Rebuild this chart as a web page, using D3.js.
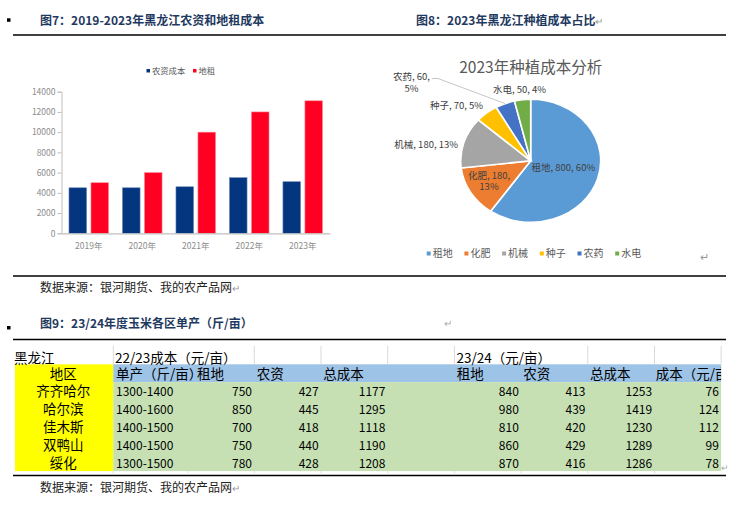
<!DOCTYPE html>
<html><head><meta charset="utf-8">
<script src="https://cdn.jsdelivr.net/npm/d3@7/dist/d3.min.js"></script>
<style>
html,body{margin:0;padding:0;background:#fff;}
svg{display:block;}
text{font-family:"Noto Sans CJK SC","Noto Sans",sans-serif;}
</style></head>
<body>
<svg id="c" width="729" height="516"></svg>
<script>
// ---------- data ----------
const years = ["2019年","2020年","2021年","2022年","2023年"];
const barSeries = ["农资成本","地租"];
const inputCost = [4500,4500,4600,5500,5100];
const landRent = [5000,6000,10000,12000,13100];
const yTicks = [0,2000,4000,6000,8000,10000,12000,14000];

const pieCats = ["租地","化肥","机械","种子","农药","水电"];
const pieValues = [800,180,180,70,60,50];
const piePct = ["60%","13%","13%","5%","5%","4%"];

const regions = ["齐齐哈尔","哈尔滨","佳木斯","双鸭山","绥化"];
const yieldRange = ["1300-1400","1400-1600","1400-1500","1400-1500","1300-1500"];
const rent2223 = [750,850,700,750,780];
const input2223 = [427,445,418,440,428];
const total2223 = [1177,1295,1118,1190,1208];
const rent2324 = [840,980,810,860,870];
const input2324 = [413,439,420,429,416];
const total2324 = [1253,1419,1230,1289,1286];
const costChange = [76,124,112,99,78];
const headerRow0 = ["黑龙江","22/23成本（元/亩）","","","","","23/24（元/亩）","","",""];
const headerRow1 = ["地区","单产（斤/亩）","租地","农资","总成本","","租地","农资","总成本","成本（元/亩）"];

// ---------- page frame ----------
const svg = d3.select("#c");
const navy = "#1F3A60";
const ret = "\u21B5";

function bullet(y){ svg.append("rect").attr("x",7).attr("y",y).attr("width",3.5).attr("height",3.5).attr("fill","#000"); }
function hline(y){ svg.append("line").attr("x1",13).attr("x2",726).attr("y1",y).attr("y2",y).attr("stroke","#000").attr("stroke-width",1.3); }
function title(x,y,t,arrow){
  const tx = svg.append("text").attr("x",x).attr("y",y).attr("font-size",12).attr("font-weight",700).attr("fill",navy).text(t);
  if(arrow) tx.append("tspan").attr("font-weight",400).attr("fill","#999").attr("font-size",10).text(ret);
}
function source(y){
  const tx = svg.append("text").attr("x",40).attr("y",y).attr("font-size",12).attr("fill","#222").text("数据来源：银河期货、我的农产品网");
  tx.append("tspan").attr("fill","#999").attr("font-size",10).text(ret);
}
bullet(18.3);
title(40,24.5,"图7：2019-2023年黑龙江农资和地租成本",false);
title(416,24.5,"图8：2023年黑龙江种植成本占比",true);
hline(35);
hline(276);
source(291.5);
bullet(326);
title(40,328,"图9：23/24年度玉米各区单产（斤/亩）",false);
svg.append("text").attr("x",444).attr("y",327).attr("font-size",10).attr("fill","#aaa").text(ret);
hline(339.5);
hline(475.5);
source(492);

// ---------- bar chart ----------
const axisFont = '"Liberation Sans Narrow","Liberation Sans",Arial,sans-serif';
const y = d3.scaleLinear().domain([0,14000]).range([233.3,91.7]);
const x0 = d3.scaleBand().domain(years).range([61.5,330]).paddingInner(0.26).paddingOuter(0.14);
const x1 = d3.scaleBand().domain(barSeries).range([0,x0.bandwidth()]).paddingInner(0.2);
const barColors = {"农资成本":"#04357F","地租":"#FF0022"};
const bars = svg.append("g");
years.forEach((yr,i)=>{
  const vals = [inputCost[i], landRent[i]];
  barSeries.forEach((s,j)=>{
    bars.append("rect")
      .attr("x", x0(yr)+x1(s)).attr("width", x1.bandwidth())
      .attr("y", y(vals[j])).attr("height", y(0)-y(vals[j]))
      .attr("fill", barColors[s]).attr("stroke", j? "#ff8a99":"#6d86b5").attr("stroke-width",0.6);
  });
});
const yAxis = svg.append("g").attr("transform","translate(61.5,0)")
  .call(d3.axisLeft(y).tickValues(yTicks).tickSize(4).tickFormat(d3.format("d")));
yAxis.select(".domain").attr("stroke","#BFBFBF");
yAxis.selectAll(".tick line").attr("stroke","#BFBFBF");
yAxis.selectAll("text").attr("fill","#8C8C8C").attr("font-size",8.5).attr("font-family",axisFont).attr("x",-6);
const xAxis = svg.append("g").attr("transform","translate(0,233.3)")
  .call(d3.axisBottom(x0).tickSize(0).tickPadding(10));
xAxis.select(".domain").attr("stroke","#BFBFBF").attr("stroke-width",1.2);
xAxis.selectAll("text").attr("fill","#8C8C8C").attr("font-size",8.5).attr("font-family",axisFont);
// legend
const lg = svg.append("g");
[[146.5,"农资成本"],[193,"地租"]].forEach(([lx,s])=>{
  lg.append("rect").attr("x",lx).attr("y",69).attr("width",3.5).attr("height",3.5).attr("fill",barColors[s]);
  lg.append("text").attr("x",lx+5.5).attr("y",74).attr("font-size",8.3).attr("fill","#595959").text(s);
});

// ---------- pie chart ----------
const pieColors = d3.scaleOrdinal().domain(pieCats).range(["#5B9BD5","#ED7D31","#A5A5A5","#FFC000","#4472C4","#70AD47"]);
const cx = 530.7, cy = 160.8, ry = 61.5, rx = 70;
svg.append("text").attr("x",cx).attr("y",72.5).attr("text-anchor","middle").attr("font-size",15.5).attr("fill","#595959").text("2023年种植成本分析");
const pieData = d3.pie().sort(null).value(d=>d.v)(pieCats.map((c,i)=>({c, v:pieValues[i], p:piePct[i]})));
const arc = d3.arc().innerRadius(0).outerRadius(ry);
const pg = svg.append("g").attr("transform",`translate(${cx},${cy}) scale(${rx/ry},1)`);
pg.selectAll("path").data(pieData).join("path")
  .attr("d",arc).attr("fill",d=>pieColors(d.data.c))
  .attr("stroke","#fff").attr("stroke-width",1.6).attr("vector-effect","non-scaling-stroke");
// data labels (layout positions relative to chart)
const lblStyle = t=>t.attr("font-size",9.5).attr("fill","#404040");
const labelLayout = [
  {lines:[0], x:531.5, y:171, a:"start"},
  {lines:[1,2], x:489, y:178.5, a:"middle"},
  {lines:[0], x:458, y:148, a:"end"},
  {lines:[0], x:483, y:108.5, a:"end"},
  {lines:[1,2], x:411.5, y:80, a:"middle"},
  {lines:[0], x:493, y:92.5, a:"start"}
];
pieData.forEach((d,i)=>{
  const L = labelLayout[i];
  const full = `${d.data.c}, ${d.data.v}, ${d.data.p}`;
  if(L.lines.length===1){
    lblStyle(svg.append("text").attr("x",L.x).attr("y",L.y).attr("text-anchor",L.a).text(full));
  } else {
    lblStyle(svg.append("text").attr("x",L.x).attr("y",L.y).attr("text-anchor",L.a).text(`${d.data.c}, ${d.data.v},`));
    lblStyle(svg.append("text").attr("x",L.x).attr("y",L.y+11.5).attr("text-anchor",L.a).text(d.data.p));
  }
});
// leader line for 农药
{
  const d = pieData[4];
  const a = (d.startAngle+d.endAngle)/2;
  const ex = cx + Math.sin(a)*rx, ey = cy - Math.cos(a)*ry;
  svg.append("polyline").attr("points",`432,78.5 438,78.5 ${ex},${ey}`)
    .attr("fill","none").attr("stroke","#BFBFBF").attr("stroke-width",0.9);
}
// legend
const pl = svg.append("g");
pieCats.forEach((c,i)=>{
  const lx = 426.7 + i*37.7;
  pl.append("rect").attr("x",lx).attr("y",251.5).attr("width",4).attr("height",4).attr("fill",pieColors(c));
  pl.append("text").attr("x",lx+6).attr("y",257).attr("font-size",10).attr("fill","#595959").text(c);
});
svg.append("text").attr("x",700).attr("y",261).attr("font-size",11).attr("fill","#999").text(ret);

// ---------- table ----------
const colW = [98.3,74.7,66.3,66.7,66.7,66.7,66.7,66.7,66.7,66.6];
const colX = [15]; colW.forEach((w,i)=>colX.push(colX[i]+w));
const rowTop0 = 344, rowTop1 = 364.3, rowH = 17.8;
const tg = svg.append("g");
const defs = svg.append("defs");
// backgrounds
tg.append("rect").attr("x",colX[0]).attr("y",rowTop1).attr("width",colW[0]).attr("height",rowH*6).attr("fill","#FFFF00");
tg.append("rect").attr("x",colX[1]).attr("y",rowTop1).attr("width",colX[10]-colX[1]).attr("height",rowH).attr("fill","#9DC3E6");
tg.append("rect").attr("x",colX[1]).attr("y",rowTop1+rowH).attr("width",colX[10]-colX[1]).attr("height",rowH*5).attr("fill","#C6E0B4");
// light grid in top row
[1,3,4,5,6,8,9,10].forEach(k=>{
  tg.append("line").attr("x1",colX[k]).attr("x2",colX[k]).attr("y1",rowTop0+2).attr("y2",rowTop1).attr("stroke","#D9D9D9").attr("stroke-width",1);
});
[1,2,3,4,5,6,7,8,9].forEach(k=>{
  tg.append("line").attr("x1",colX[k]).attr("x2",colX[k]).attr("y1",rowTop1+rowH*6).attr("y2",rowTop1+rowH*6+3.5).attr("stroke","#E3E3E3").attr("stroke-width",1);
});
const cjk = '"Noto Sans CJK SC",sans-serif';
const mono = '"DejaVu Sans Mono","Liberation Mono",monospace';
// row 0
[[0,14],[1,115],[6,456.5]].forEach(([k,xx])=>{
  tg.append("text").attr("x",xx).attr("y",rowTop0+18.5).attr("font-size",13.5).attr("font-family",cjk).attr("fill","#000").text(headerRow0[k]);
});
// row 1 headers
defs.append("clipPath").attr("id","clipB").append("rect").attr("x",colX[1]).attr("y",rowTop1).attr("width",82).attr("height",rowH);
defs.append("clipPath").attr("id","clipJ").append("rect").attr("x",colX[9]).attr("y",rowTop1).attr("width",colW[9]).attr("height",rowH);
const hx = [null,116,197,256.7,323.3,null,456.7,523.3,590,655.7];
headerRow1.forEach((h,k)=>{
  if(!h) return;
  const t = tg.append("text").attr("y",rowTop1+14.5).attr("font-size",13.5).attr("font-family",cjk).attr("fill","#000").text(h);
  if(k===0) t.attr("x",(colX[0]+colX[1])/2-1).attr("text-anchor","middle");
  else t.attr("x",hx[k]);
  if(k===1) t.attr("clip-path","url(#clipB)");
  if(k===9) t.attr("clip-path","url(#clipJ)");
});
// data rows
const numCols = [[2,rent2223],[3,input2223],[4,total2223],[6,rent2324],[7,input2324],[8,total2324],[9,costChange]];
regions.forEach((r,i)=>{
  const base = rowTop1 + rowH*(i+1) + 14.3;
  tg.append("text").attr("x",(colX[0]+colX[1])/2-1).attr("y",base).attr("text-anchor","middle")
    .attr("font-size",13.5).attr("font-family",cjk).attr("fill","#000").text(r);
  tg.append("text").attr("x",colX[1]+2.7).attr("y",base).attr("font-size",12).attr("font-family",mono).attr("fill","#000").text(yieldRange[i]);
  numCols.forEach(([k,arr])=>{
    tg.append("text").attr("x",colX[k+1]-2.3).attr("y",base).attr("text-anchor","end")
      .attr("font-size",12).attr("font-family",mono).attr("fill","#000").text(arr[i]);
  });
});
svg.append("text").attr("x",720.5).attr("y",471).attr("font-size",9).attr("fill","#aaa").text(ret);
</script>
</body></html>
